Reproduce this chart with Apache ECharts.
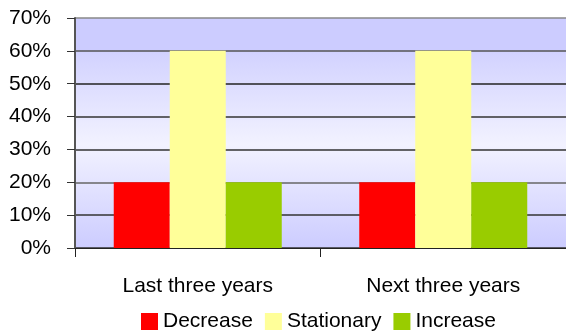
<!DOCTYPE html>
<html style="height: 100%; width: 100%">
  <head>
    <meta charset="utf-8" />
  </head>
  <body style="height: 100%; width: 100%; margin: 0">
    <div id="chart-panel" style="height: 336px; width: 566px"></div>
    <script
      type="text/javascript"
      src="https://fastly.jsdelivr.net/npm/echarts@6.0.0/dist/echarts.min.js"
    ></script>

    <script type="text/javascript">
      var dom = document.getElementById("chart-panel");
      var myChart = echarts.init(dom);
      var option;

      var categories = ["Last three years", "Next three years"];
      var seriesNames = ["Decrease", "Stationary", "Increase"];
      var decrease = [20, 20];
      var stationary = [60, 60];
      var increase = [20, 20];
      var colors = ["#ff0000", "#ffff99", "#99cc00"];

      var font = "'Liberation Sans', Arial, sans-serif";

      option = {
        animation: false,
        textStyle: { fontFamily: font },
        legend: {
          data: seriesNames,
          left: 141,
          top: 311,
          padding: 0,
          itemWidth: 17,
          itemHeight: 17,
          itemGap: 12,
          icon: "rect",
          textStyle: { fontSize: 21, color: "#000", padding: [0, 0, 0, 0] },
        },
        grid: {
          left: 75,
          top: 18,
          width: 494,
          height: 230,
          show: true,
          borderWidth: 0,
          backgroundColor: new echarts.graphic.LinearGradient(0, 0, 0, 1, [
            { offset: 0, color: "#ccccff" },
            { offset: 0.14, color: "#ccccff" },
            { offset: 0.15, color: "#d2d2ff" },
            { offset: 0.55, color: "#f2f2ff" },
            { offset: 1, color: "#ccccff" },
          ]),
        },
        xAxis: {
          type: "category",
          data: categories,
          axisLine: { lineStyle: { color: "#222", width: 1 } },
          axisTick: { show: true, length: 9, lineStyle: { color: "#222" } },
          axisLabel: { fontSize: 21, color: "#000", margin: 28 },
        },
        yAxis: {
          type: "value",
          min: 0,
          max: 70,
          interval: 10,
          axisLine: { show: true, lineStyle: { color: "#555", width: 2 } },
          axisTick: { show: true, length: 8, lineStyle: { color: "#333" } },
          axisLabel: {
            fontSize: 21,
            color: "#000",
            margin: 24,
            formatter: "{value}%",
          },
          splitLine: {
            show: true,
            lineStyle: {
              color: ["#333", "#333", "#666", "#333", "#333", "#222", "#555", "#888"],
              width: 1.5,
            },
          },
        },
        series: [
          {
            name: seriesNames[0],
            type: "bar",
            data: decrease,
            barWidth: 56,
            barGap: "0%",
            itemStyle: { color: colors[0] },
          },
          {
            name: seriesNames[1],
            type: "bar",
            data: stationary,
            barWidth: 56,
            barGap: "0%",
            itemStyle: { color: colors[1] },
          },
          {
            name: seriesNames[2],
            type: "bar",
            data: increase,
            barWidth: 56,
            barGap: "0%",
            itemStyle: { color: colors[2] },
          },
        ],
      };
      if (option && typeof option === "object") {
        myChart.setOption(option);
      }
    </script>
  </body>
</html>
